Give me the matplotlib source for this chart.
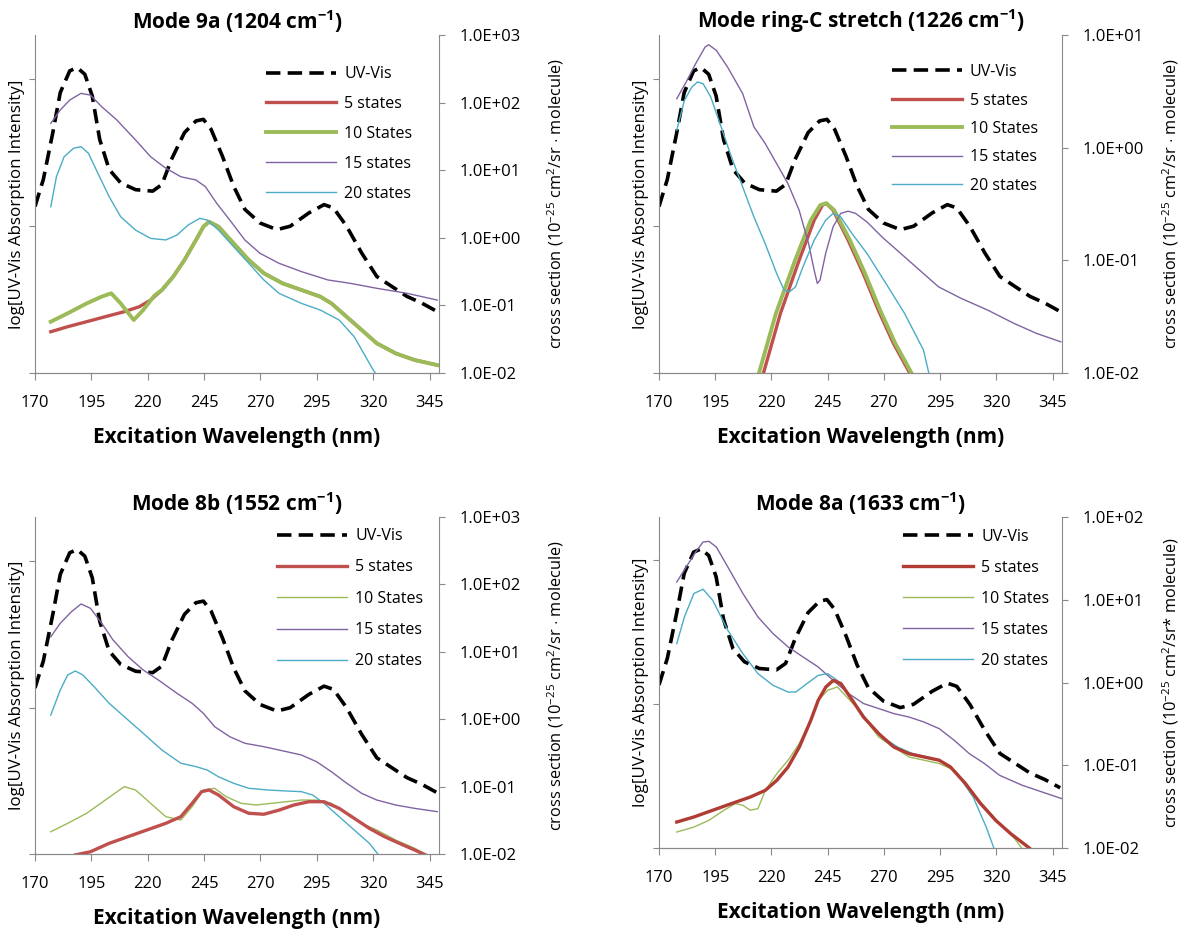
import numpy as np
import matplotlib
matplotlib.use("Agg")
import matplotlib.pyplot as plt
from matplotlib.ticker import FixedLocator, FuncFormatter, NullLocator

plt.rcParams['font.family'] = ['Open Sans', 'DejaVu Sans']
plt.rcParams['mathtext.fontset'] = 'custom'
plt.rcParams['mathtext.rm'] = 'Open Sans'
plt.rcParams['mathtext.bf'] = 'Open Sans:bold'

# UV-Vis absorption (same measured spectrum in all four panels, left log axis)
uv_wl = [170, 173.7, 177.9, 181.2, 185.4, 188.7, 192.1, 195.4, 198.7, 202.9, 208, 214.6,
         222.2, 226.3, 230.5, 236.3, 241.4, 244.7, 248.1, 253.1, 258.1, 263.1, 269.8,
         277.3, 283.2, 291.5, 298.2, 302.4, 308.2, 314.9, 321.6, 328.3, 335, 341.6, 348.4]
uv_abs = [0.136, 0.208, 0.433, 0.811, 1.14, 1.20, 1.08, 0.769, 0.389, 0.243, 0.197, 0.177,
          0.173, 0.192, 0.284, 0.433, 0.52, 0.533, 0.456, 0.300, 0.187, 0.130, 0.105,
          0.0946, 0.0998, 0.123, 0.140, 0.133, 0.0998, 0.0656, 0.0454, 0.0388, 0.0332, 0.0299, 0.0262]

# Mode 9a (1204 cm-1)
m9a_5_wl = [177.0, 184.5, 192.9, 201.2, 209.6, 216.3, 221.3, 226.3, 231.3, 236.3, 241.4, 244.7, 247.2,
            251.4, 258.1, 264.8, 271.5, 279.8, 288.2, 296.5, 301.5, 308.2, 314.9, 321.6, 330.0, 338.3, 348.4]
m9a_5 = [0.0408, 0.0484, 0.0574, 0.0681, 0.0807, 0.0957, 0.120, 0.169, 0.266, 0.470, 0.927, 1.46, 1.73,
         1.46, 0.828, 0.470, 0.299, 0.212, 0.169, 0.135, 0.107, 0.068, 0.0433, 0.0275, 0.0195, 0.0156, 0.0131]
m9a_10_wl = [177.0, 184.5, 192.9, 199.6, 203.8, 208.0, 213.8, 218.0, 223.0, 226.3, 231.3, 236.3, 241.4,
             244.7, 247.2, 251.4, 258.1, 264.8, 271.5, 279.8, 288.2, 296.5, 301.5, 308.2, 314.9, 321.6,
             330.0, 338.3, 348.4]
m9a_10 = [0.0574, 0.0764, 0.107, 0.135, 0.151, 0.107, 0.0608, 0.0855, 0.14, 0.169, 0.266, 0.470, 0.927,
          1.46, 1.73, 1.46, 0.828, 0.470, 0.299, 0.212, 0.169, 0.135, 0.107, 0.068, 0.0433, 0.0275,
          0.0195, 0.0156, 0.0131]
m9a_15_wl = [177.0, 181.2, 185.4, 190.4, 194.6, 199.6, 206.3, 214.6, 221.3, 228.0, 234.7, 241.4, 245.6,
             250.6, 256.4, 263.1, 269.8, 278.2, 288.2, 299.9, 309.9, 321.6, 335.0, 348.4]
m9a_15 = [49.4, 77.7, 109, 137, 129, 86.9, 55.3, 28.0, 15.8, 10.7, 8.0, 7.16, 5.70,
          3.24, 1.83, 0.927, 0.590, 0.420, 0.316, 0.238, 0.212, 0.179, 0.151, 0.120]
m9a_20_wl = [177.0, 179.5, 182.9, 187.1, 190.4, 193.7, 197.9, 202.9, 208.0, 214.6, 221.3, 228.0, 233.0,
             238.0, 243.1, 246.4, 251.4, 258.1, 264.8, 271.5, 278.2, 288.2, 296.5, 304.9, 311.6, 320.0, 322.0]
m9a_20 = [2.88, 8.0, 15.8, 21.1, 22.3, 17.8, 9.0, 4.06, 2.05, 1.30, 0.98, 0.93, 1.10,
          1.55, 1.94, 1.83, 1.30, 0.738, 0.42, 0.238, 0.151, 0.107, 0.0855, 0.0608, 0.0344, 0.0111, 0.009]

# Mode ring-C stretch (1226 cm-1)
mrc_5_wl = [215.1, 216.4, 224.0, 232.3, 239.0, 242.7, 244.4, 247.4, 254.1, 260.8, 267.5, 274.2, 281.6, 284.2]
mrc_5 = [0.008, 0.0099, 0.0338, 0.1, 0.227, 0.309, 0.319, 0.279, 0.151, 0.0766, 0.0362, 0.0184, 0.0099, 0.008]
mrc_10_wl = [213.1, 214.4, 222.0, 230.5, 237.5, 241.7, 244.4, 247.9, 254.9, 261.6, 268.3, 275.0, 282.4, 285.0]
mrc_10 = [0.008, 0.0099, 0.0338, 0.1, 0.227, 0.309, 0.322, 0.279, 0.151, 0.0766, 0.0362, 0.0184, 0.0099, 0.008]
mrc_15_wl = [177.9, 182.1, 186.3, 190.5, 192.1, 195.5, 200.5, 207.2, 212.2, 217.2, 222.3, 227.3, 232.3,
             236.5, 239.0, 240.4, 241.6, 244.1, 247.4, 250.8, 254.1, 257.4, 262.5, 269.2, 277.5, 285.9,
             294.3, 304.4, 316.1, 327.8, 337.8, 348.7]
mrc_15 = [2.72, 3.83, 5.57, 7.82, 8.2, 7.3, 5.19, 3.02, 1.53, 1.09, 0.723, 0.481, 0.279,
          0.141, 0.0818, 0.0624, 0.0667, 0.115, 0.198, 0.261, 0.273, 0.261, 0.219, 0.161, 0.115, 0.0818,
          0.0582, 0.0459, 0.0362, 0.0276, 0.0225, 0.0189]
mrc_20_wl = [177.9, 181.3, 184.6, 187.1, 189.6, 193.0, 197.1, 202.2, 207.2, 212.2, 217.2, 222.3, 225.6,
             228.1, 230.7, 234.0, 239.0, 244.1, 247.4, 250.8, 255.8, 262.5, 270.9, 279.2, 287.6, 290.5]
mrc_20 = [1.43, 2.63, 3.45, 3.83, 3.70, 2.82, 1.64, 0.828, 0.449, 0.243, 0.141, 0.0766, 0.0545,
          0.0526, 0.0582, 0.0875, 0.151, 0.227, 0.261, 0.243, 0.173, 0.115, 0.0624, 0.0338, 0.016, 0.009]

# Mode 8b (1552 cm-1)
m8b_5_wl = [187.9, 194.6, 202.9, 211.3, 219.6, 228.0, 234.7, 239.7, 243.9, 247.2, 251.4, 258.1, 264.8,
            271.5, 278.2, 284.8, 291.5, 298.2, 304.9, 311.6, 318.3, 325.0, 331.6, 338.3, 345.0]
m8b_5 = [0.0097, 0.0108, 0.0144, 0.0181, 0.0227, 0.0285, 0.0358, 0.0565, 0.0841, 0.0891, 0.075, 0.0504, 0.0402,
         0.0389, 0.0447, 0.0533, 0.0597, 0.0597, 0.0476, 0.0338, 0.0240, 0.0181, 0.0144, 0.0115, 0.0091]
m8b_10_wl = [177.0, 184.5, 192.9, 201.2, 209.6, 214.6, 221.3, 228.0, 234.7, 239.7, 244.7, 249.7, 254.8,
             261.4, 268.1, 274.8, 281.5, 288.2, 294.9, 301.5, 308.3, 314.9, 321.6, 330.0, 338.3, 346.7]
m8b_10 = [0.0214, 0.0285, 0.0402, 0.0632, 0.0998, 0.0891, 0.0565, 0.0358, 0.0319, 0.0504, 0.0891, 0.0944, 0.0708,
          0.0565, 0.0533, 0.0565, 0.0597, 0.0632, 0.0632, 0.0565, 0.0402, 0.0285, 0.0227, 0.0161, 0.0122, 0.0086]
m8b_15_wl = [177.0, 181.2, 186.2, 190.4, 194.6, 199.6, 204.6, 211.3, 218.0, 224.7, 233.0, 239.7, 244.7,
             249.7, 256.4, 263.1, 271.5, 281.5, 288.2, 294.9, 301.5, 308.3, 314.9, 321.6, 330.0, 338.3, 348.4]
m8b_15 = [16.7, 26.5, 39.4, 51.2, 44.2, 26.5, 15.0, 8.45, 5.37, 3.82, 2.42, 1.72, 1.22,
          0.774, 0.55, 0.439, 0.391, 0.33, 0.294, 0.234, 0.166, 0.112, 0.0794, 0.0632, 0.0533, 0.0476, 0.0425]
m8b_20_wl = [177.0, 181.2, 184.5, 187.9, 191.2, 196.2, 202.9, 209.6, 218.0, 226.3, 234.7, 241.4, 246.4,
             251.4, 258.1, 264.8, 273.2, 281.5, 288.2, 293.2, 298.2, 304.9, 311.6, 318.3, 321.6, 323.0]
m8b_20 = [1.15, 2.71, 4.53, 5.19, 4.53, 3.04, 1.72, 1.09, 0.617, 0.349, 0.222, 0.198, 0.176,
          0.14, 0.112, 0.0944, 0.0891, 0.0861, 0.0841, 0.075, 0.0565, 0.0358, 0.0227, 0.0144, 0.0105, 0.009]

# Mode 8a (1633 cm-1)
m8a_5_wl = [177.9, 185.5, 193.9, 202.2, 210.6, 217.3, 222.4, 227.4, 232.4, 237.5, 240.8, 244.2, 247.5, 250.9,
            256.0, 260.9, 267.7, 274.4, 281.1, 287.8, 294.6, 299.6, 306.3, 313.0, 319.7, 326.4, 334.9, 336.0]
m8a_5 = [0.0206, 0.0237, 0.0286, 0.0344, 0.0413, 0.0498, 0.0658, 0.0953, 0.166, 0.349, 0.61, 0.883, 1.06, 0.97,
         0.61, 0.383, 0.241, 0.166, 0.138, 0.126, 0.115, 0.0953, 0.06, 0.0344, 0.0216, 0.0149, 0.0099, 0.009]
m8a_10_wl = [177.9, 185.5, 192.2, 198.9, 203.9, 207.3, 210.6, 214.0, 217.3, 222.4, 227.4, 232.4, 237.5, 240.8,
             245.0, 249.3, 257.7, 267.7, 281.1, 294.6, 301.3, 308.0, 314.7, 321.4, 328.1, 331.5, 333.0]
m8a_10 = [0.0156, 0.0179, 0.0216, 0.0286, 0.0344, 0.0328, 0.0286, 0.0299, 0.0498, 0.0793, 0.115, 0.183, 0.349, 0.61,
          0.805, 0.883, 0.506, 0.219, 0.126, 0.105, 0.0869, 0.0498, 0.0319, 0.0199, 0.0130, 0.0098, 0.009]
m8a_15_wl = [177.9, 182.1, 186.3, 189.6, 192.2, 195.5, 200.6, 207.3, 214.0, 220.7, 227.4, 234.1, 240.8, 247.5,
             254.3, 261.0, 267.7, 274.4, 281.1, 287.8, 294.6, 301.3, 308.0, 314.7, 321.4, 331.5, 349.1]
m8a_15 = [16.4, 24.9, 37.8, 49.9, 50.8, 43.4, 24.9, 11.9, 6.19, 3.9, 2.69, 2.03, 1.54, 1.06,
          0.735, 0.556, 0.484, 0.421, 0.383, 0.333, 0.277, 0.2, 0.138, 0.105, 0.0757, 0.0573, 0.0395]
m8a_20_wl = [177.9, 181.3, 185.5, 189.6, 193.9, 200.6, 207.3, 214.0, 220.7, 227.4, 230.8, 235.8, 240.8, 245.0,
             249.3, 256.0, 262.6, 269.4, 276.1, 282.8, 289.5, 294.6, 299.6, 304.6, 309.7, 315.5, 318.9, 319.5]
m8a_20 = [2.95, 6.19, 11.9, 13.4, 9.84, 4.28, 2.23, 1.28, 0.925, 0.767, 0.767, 0.97, 1.22, 1.28,
          1.06, 0.61, 0.349, 0.219, 0.166, 0.138, 0.126, 0.115, 0.0953, 0.0658, 0.0413, 0.0179, 0.01, 0.009]

legend_labels = ['UV-Vis', '5 states', '10 States', '15 states', '20 states']
xticks = [170, 195, 220, 245, 270, 295, 320, 345]

GRAY = '#8a8a8a'
RED = '#c0504d'
GREEN = '#9bbb59'
PURPLE = '#8064a2'
CYAN = '#4bacc6'

W, H = 1184, 930
fig = plt.figure(figsize=(W / 100, H / 100), dpi=100)

sci = FuncFormatter(lambda v, p: f"{v:.1E}")
cs_label = r'cross section (10$^{-25}$ cm$^{2}$/sr $\cdot$ molecule)'


def panel(box, title, ytop, series, green_thick, leg_xy, leg_space, lab_x, cs_text=cs_label, red=RED):
    left, top, right, bottom = box
    ax = fig.add_axes([left / W, 1 - bottom / H, (right - left) / W, (bottom - top) / H])
    ax2 = ax.twinx()
    ax.set_xlim(170, 349.2)
    ax.set_yscale('log')
    ax.set_ylim(0.01, 2.0)
    ax2.set_yscale('log')
    ax2.set_ylim(0.01, ytop)

    (w5, v5), (w10, v10), (w15, v15), (w20, v20) = series
    uv, = ax.plot(uv_wl, uv_abs, color='black', lw=2.6, dashes=(4.0, 2.0))
    l5, = ax2.plot(w5, v5, color=red, lw=2.4)
    l10, = ax2.plot(w10, v10, color=GREEN, lw=2.8 if green_thick else 1.0)
    l15, = ax2.plot(w15, v15, color=PURPLE, lw=1.0)
    l20, = ax2.plot(w20, v20, color=CYAN, lw=1.0)
    if not green_thick:
        l5.set_zorder(l10.get_zorder() + 0.5)

    for a in (ax, ax2):
        a.spines['top'].set_visible(False)
        for s in a.spines.values():
            s.set_color(GRAY)
    ax2.spines['left'].set_visible(False)
    ax.spines['right'].set_visible(False)

    ax.set_xticks(xticks)
    ax.tick_params(axis='x', direction='out', length=5, color=GRAY, labelsize=12, pad=11)
    ax.yaxis.set_major_locator(FixedLocator([0.01, 0.1, 1.0]))
    ax.yaxis.set_minor_locator(NullLocator())
    ax.tick_params(axis='y', direction='out', length=4, color=GRAY, labelleft=False)

    decades = [10.0 ** k for k in range(-2, int(round(np.log10(ytop))) + 1)]
    ax2.yaxis.set_major_locator(FixedLocator(decades))
    ax2.yaxis.set_minor_locator(NullLocator())
    ax2.yaxis.set_major_formatter(sci)
    ax2.tick_params(axis='y', direction='out', length=4, color=GRAY, labelsize=12, pad=10.5)

    ax.set_title(title, fontsize=15, fontweight='bold', pad=2)
    ax.set_xlabel('Excitation Wavelength (nm)', fontsize=15, fontweight='bold', labelpad=11)
    ax.set_ylabel('log[UV-Vis Absorption Intensity]', fontsize=12.2)
    ax.yaxis.set_label_coords(-0.024, 0.5)
    ax2.set_ylabel(cs_text, fontsize=11.8)
    ax2.yaxis.set_label_coords(lab_x, 0.5)

    ax2.legend([uv, l5, l10, l15, l20], legend_labels, loc='upper left', bbox_to_anchor=leg_xy,
               frameon=False, fontsize=11.5, handlelength=4.4, handletextpad=0.5,
               labelspacing=leg_space, borderaxespad=0, borderpad=0)


panel((35, 35, 439, 373), r'Mode 9a (1204 cm$^{\mathbf{-1}}$)', 1e3,
      [(m9a_5_wl, m9a_5), (m9a_10_wl, m9a_10), (m9a_15_wl, m9a_15), (m9a_20_wl, m9a_20)],
      True, (0.572, 0.908), 0.87, 1.262)
panel((659, 35, 1062, 373), r'Mode ring-C stretch (1226 cm$^{\mathbf{-1}}$)', 1e1,
      [(mrc_5_wl, mrc_5), (mrc_10_wl, mrc_10), (mrc_15_wl, mrc_15), (mrc_20_wl, mrc_20)],
      True, (0.577, 0.914), 0.78, 1.245)
panel((35, 517, 439, 854), r'Mode 8b (1552 cm$^{\mathbf{-1}}$)', 1e3,
      [(m8b_5_wl, m8b_5), (m8b_10_wl, m8b_10), (m8b_15_wl, m8b_15), (m8b_20_wl, m8b_20)],
      False, (0.599, 0.967), 0.96, 1.262)
panel((659, 517, 1062, 848), r'Mode 8a (1633 cm$^{\mathbf{-1}}$)', 1e2,
      [(m8a_5_wl, m8a_5), (m8a_10_wl, m8a_10), (m8a_15_wl, m8a_15), (m8a_20_wl, m8a_20)],
      False, (0.605, 0.965), 0.94, 1.245,
      cs_text=r'cross section (10$^{-25}$ cm$^{2}$/sr* molecule)', red='#b03c33')

fig.savefig('out.png', dpi=100, facecolor='white')
